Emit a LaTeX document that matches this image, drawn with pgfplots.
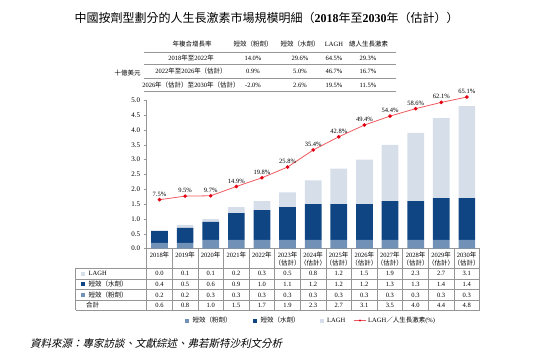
\documentclass[border=0pt]{standalone}
\usepackage{fontspec}
\setmainfont{Liberation Serif}
\newfontfamily\cjk{Noto Sans CJK TC}
\newfontfamily\cjkit[FakeSlant=0.22]{Noto Sans CJK TC}
\usepackage{pgfplots}
\pgfplotsset{compat=1.18}
\definecolor{cpow}{RGB}{114,145,182}
\definecolor{cwat}{RGB}{14,69,130}
\definecolor{clagh}{RGB}{214,222,234}
\definecolor{cline}{RGB}{240,90,95}
\definecolor{cdot}{RGB}{228,0,18}
\definecolor{tline}{RGB}{150,150,150}
\newcommand{\nian}{{\cjk 年}}
\newcommand{\gu}{{\cjk （估計）}}
\begin{document}
\begin{tikzpicture}
\path[use as bounding box] (0,0) rectangle (550pt,-354pt);
% main axis with stacked bars
\begin{axis}[
  at={(146.7pt,-248.7pt)}, anchor=south west,
  scale only axis, width=333pt, height=148.5pt,
  xmin=-0.5, xmax=12.5, ymin=0, ymax=5,
  ybar stacked, bar width=16.7pt,
  axis x line*=bottom, axis y line*=left,
  axis line style={draw=tline, line width=0.6pt},
  xtick=\empty,
  ytick={0,0.5,...,5},
  yticklabel style={/pgf/number format/.cd, fixed, fixed zerofill, precision=1, assume math mode=true},
  tick label style={font=\fontsize{7}{8}\selectfont},
  tick align=outside, major tick length=3pt,
  tick style={draw=tline, line width=0.5pt},
  clip=false,
]
\addplot[fill=cpow, draw=none] coordinates {(0,0.2) (1,0.2) (2,0.3) (3,0.3) (4,0.3) (5,0.3) (6,0.3) (7,0.3) (8,0.3) (9,0.3) (10,0.3) (11,0.3) (12,0.3)};
\addplot[fill=cwat, draw=none] coordinates {(0,0.4) (1,0.5) (2,0.6) (3,0.9) (4,1.0) (5,1.1) (6,1.2) (7,1.2) (8,1.2) (9,1.3) (10,1.3) (11,1.4) (12,1.4)};
\addplot[fill=clagh, draw=none] coordinates {(0,0.0) (1,0.1) (2,0.1) (3,0.2) (4,0.3) (5,0.5) (6,0.8) (7,1.2) (8,1.5) (9,1.9) (10,2.3) (11,2.7) (12,3.1)};
\end{axis}
% secondary axis for the share line
\begin{axis}[
  at={(146.7pt,-248.7pt)}, anchor=south west,
  scale only axis, width=333pt, height=148.5pt,
  xmin=-0.5, xmax=12.5, ymin=-20, ymax=63.333,
  hide axis, clip=false,
]
\addplot[color=cline, line width=0.8pt, mark=*, mark size=1.4pt,
  mark options={fill=cdot, draw=cdot},
  point meta=y,
  nodes near coords={\pgfmathprintnumber[fixed,fixed zerofill,precision=1,assume math mode=true]{\pgfplotspointmeta}\%},
  every node near coord/.style={font=\fontsize{6.5}{7}\selectfont, text=black, anchor=south, inner sep=1.5pt, yshift=1.5pt}]
coordinates {(0,7.5) (1,9.5) (2,9.7) (3,14.9) (4,19.8) (5,25.8) (6,35.4) (7,42.8) (8,49.4) (9,54.4) (10,58.6) (11,62.1) (12,65.1)};
\end{axis}
\begin{scope}[x=1pt, y=-1pt, every node/.style={inner sep=0pt}]
% title
\node at (266.7,18) {\fontsize{12}{13}\selectfont{\cjk 中國按劑型劃分的人生長激素市場規模明細（}\textbf{2018}{\cjk 年至}\textbf{2030}{\cjk 年（估計））}};
% CAGR table
\begin{scope}[font=\fontsize{6.5}{8}\selectfont]
\node at (192,44) {\cjk 年複合增長率};
\node at (253,44) {\cjk 短效（粉劑）};
\node at (300,44) {\cjk 短效（水劑）};
\node at (334,44) {LAGH};
\node at (368.5,44) {\cjk 總人生長激素};
\draw[tline, line width=1pt] (144,52.7) -- (396,52.7);
\draw[tline, line width=1pt] (144,64.8) -- (396,64.8);
\draw[tline, line width=1pt] (144,78) -- (396,78);
\draw[tline, line width=1pt] (144,91.5) -- (396,91.5);
\node at (191,58.3) {2018\nian{\cjk 至}2022\nian};
\node at (191,71.5) {2022\nian{\cjk 至}2026\nian\gu};
\node at (191,85) {2026\nian\gu{\cjk 至}2030\nian\gu};
\node at (253,58.3) {14.0\%}; \node at (300,58.3) {29.6\%}; \node at (334,58.3) {64.5\%}; \node at (368,58.3) {29.3\%};
\node at (253,71.5) {0.9\%}; \node at (300,71.5) {5.0\%}; \node at (334,71.5) {46.7\%}; \node at (368,71.5) {16.7\%};
\node at (253,85) {-2.0\%}; \node at (300,85) {2.6\%}; \node at (334,85) {19.5\%}; \node at (368,85) {11.5\%};
\node at (127.5,73.3) {\cjk 十億美元};
\end{scope}
% bottom data table
\begin{scope}[font=\fontsize{6.5}{7.5}\selectfont]
\foreach \k in {0,...,13} {\draw[tline, line width=0.6pt] ({146.7+25.6*\k},248.7) -- ({146.7+25.6*\k},310);}
\draw[tline, line width=0.6pt] (75.7,268.3) -- (75.7,310);
\foreach \yy in {268.3,279,289.6,300,310} {\draw[tline, line width=0.6pt] (75.7,\yy) -- (479.5,\yy);}
\foreach \yr [count=\i from 0] in {2018,2019,2020,2021,2022} {\node[anchor=north] at ({159.5+25.6*\i},251.5) {\yr\nian};}
\foreach \yr [count=\i from 5] in {2023,2024,2025,2026,2027,2028,2029,2030} {\node[anchor=north, align=center] at ({159.5+25.6*\i},251.5) {\yr\nian\\[0.5pt]\gu};}
\foreach \v [count=\i from 0] in {0.0,0.1,0.1,0.2,0.3,0.5,0.8,1.2,1.5,1.9,2.3,2.7,3.1} {\node at ({159.5+25.6*\i},273.7) {\v};}
\foreach \v [count=\i from 0] in {0.4,0.5,0.6,0.9,1.0,1.1,1.2,1.2,1.2,1.3,1.3,1.4,1.4} {\node at ({159.5+25.6*\i},284.3) {\v};}
\foreach \v [count=\i from 0] in {0.2,0.2,0.3,0.3,0.3,0.3,0.3,0.3,0.3,0.3,0.3,0.3,0.3} {\node at ({159.5+25.6*\i},295) {\v};}
\foreach \v [count=\i from 0] in {0.6,0.8,1.0,1.5,1.7,1.9,2.3,2.7,3.1,3.5,4.0,4.4,4.8} {\node at ({159.5+25.6*\i},305.2) {\v};}
\fill[clagh] (80.7,271.7) rectangle +(4,4);
\fill[cwat] (80.7,282.3) rectangle +(4,4);
\fill[cpow] (80.7,293) rectangle +(4,4);
\node[anchor=west] at (88.5,273.7) {LAGH};
\node[anchor=west] at (88.5,284.3) {\cjk 短效（水劑）};
\node[anchor=west] at (88.5,295) {\cjk 短效（粉劑）};
\node[anchor=west] at (86,305.2) {\cjk 合計};
% legend
\fill[cpow] (185.3,318.5) rectangle +(4,4);
\node[anchor=west] at (192.5,320.5) {\cjk 短效（粉劑）};
\fill[cwat] (253.3,318.5) rectangle +(4,4);
\node[anchor=west] at (260.5,320.5) {\cjk 短效（水劑）};
\fill[clagh] (320,318.5) rectangle +(4,4);
\node[anchor=west] at (327,320.5) {LAGH};
\draw[cline, line width=0.8pt] (354,320.5) -- (366,320.5);
\fill[cdot] (360,320.5) circle (1.2);
\node[anchor=west] at (368,320.5) {LAGH{\cjk ／人生長激素}(\%)};
\end{scope}
% source
\node[anchor=west] at (30,343.5) {\fontsize{10.5}{12}\selectfont\cjkit 資料來源：專家訪談、文獻綜述、弗若斯特沙利文分析};
\end{scope}
\end{tikzpicture}
\end{document}
